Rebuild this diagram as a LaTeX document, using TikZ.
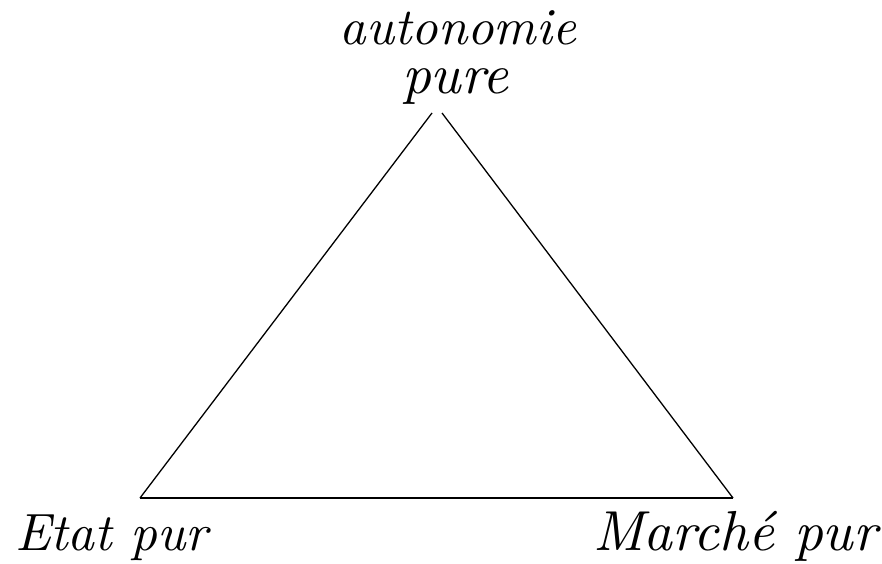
\documentclass[tikz,border=0pt]{standalone}
\usepackage{graphicx}
\tikzset{
  edge/.style={line width=1.3pt, black},
  lbl/.style={inner sep=0pt, outer sep=0pt, font=\itshape}
}
\begin{document}
\begin{tikzpicture}[x=1pt,y=1pt]
  \useasboundingbox (0,0) rectangle (882,563);
  % corners (y = 563 - pixel y)
  \coordinate (apexL) at (432,450);
  \coordinate (apexR) at (442,450);
  \coordinate (bl) at (140,65);
  \coordinate (br) at (733,65);
  \draw[edge] (bl) -- (apexL);
  \draw[edge] (apexR) -- (br);
  \draw[edge] (bl) -- (br);
  % labels
  \node[lbl, anchor=base, align=center, font=\itshape\fontsize{10}{49}\selectfont] (auto) at (458,469)
    {\resizebox{236pt}{!}{autonomie}\\\hspace*{-6pt}\resizebox{106pt}{!}{pure}};
  \node[lbl, anchor=base west] (etat) at (15,13) {\resizebox{193pt}{!}{Etat pur}};
  \node[lbl, anchor=base west] (marche) at (593,13) {\resizebox{284pt}{!}{Marché pur}};
\end{tikzpicture}
\end{document}
